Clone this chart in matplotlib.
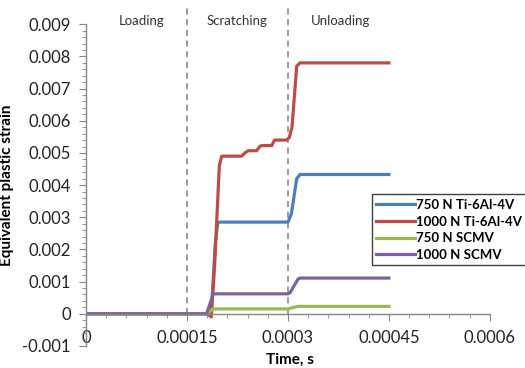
import numpy as np
import matplotlib
matplotlib.use('Agg')
import matplotlib.pyplot as plt
from matplotlib.ticker import MultipleLocator

plt.rcParams['font.family'] = ['Lato', 'DejaVu Sans']

# Data (time in s, equivalent plastic strain)
t_blue = [0, 0.000186, 0.000192, 0.000196, 0.0003, 0.000305, 0.000313, 0.000318, 0.00045]
v_blue = [0, 0, 0.0022, 0.00285, 0.00285, 0.0031, 0.0042, 0.00433, 0.00433]

t_red = [0, 0.000180, 0.000186, 0.000191, 0.000198, 0.0002015, 0.000231, 0.000236,
         0.000241, 0.0002535, 0.000258, 0.000261, 0.000276, 0.000280, 0.000285,
         0.000298, 0.000302, 0.000306, 0.000313, 0.000318, 0.00045]
v_red = [0, 0, -0.0001, 0.0015, 0.0046, 0.0049, 0.0049, 0.0050,
         0.00507, 0.00507, 0.0052, 0.00523, 0.00523, 0.0054, 0.0054,
         0.0054, 0.00548, 0.0058, 0.0077, 0.0078, 0.0078]

t_green = [0, 0.000179, 0.000189, 0.0003, 0.000303, 0.000315, 0.00045]
v_green = [0, 0, 0.00015, 0.00015, 0.00017, 0.00023, 0.00023]

t_purple = [0, 0.000179, 0.000189, 0.0003, 0.000303, 0.000315, 0.000318, 0.00045]
v_purple = [0, 0, 0.00062, 0.00062, 0.00065, 0.00108, 0.00111, 0.00111]

labels = ['750 N Ti-6Al-4V', '1000 N Ti-6Al-4V', '750 N SCMV', '1000 N SCMV']
colors = ['#4A7EBB', '#BE4B48', '#98B954', '#7D60A0']

stage_bounds = [0.00015, 0.0003]
stage_names = ['Loading', 'Scratching', 'Unloading']
stage_pos = [0.000082, 0.000224, 0.000378]

fig = plt.figure(figsize=(5.25, 3.68), dpi=100)
ax = fig.add_axes([0.164, 0.06, 0.769, 0.874])

series = [(t_blue, v_blue), (t_red, v_red), (t_green, v_green), (t_purple, v_purple)]
for (t, v), lab, c in zip(series, labels, colors):
    ax.plot(t, v, color=c, lw=2.3, label=lab, solid_joinstyle='round')

for xb in stage_bounds:
    ax.plot([xb, xb], [0, 0.0095], color='#808080', lw=1.1, ls=(0, (4, 3)),
            clip_on=False, zorder=1)

for name, xp in zip(stage_names, stage_pos):
    ax.text(xp, 0.0091, name, ha='center', va='center', fontsize=9.5, color='#333333')

ax.set_xlim(0, 0.0006)
ax.set_ylim(-0.001, 0.009)
ax.xaxis.set_major_locator(MultipleLocator(0.00015))
ax.xaxis.set_minor_locator(MultipleLocator(0.00003))
ax.yaxis.set_major_locator(MultipleLocator(0.001))
ax.yaxis.set_minor_locator(MultipleLocator(0.0002))
ax.set_xticks([0, 0.00015, 0.0003, 0.00045, 0.0006])
ax.set_xticklabels(['0', '0.00015', '0.0003', '0.00045', '0.0006'])
ax.set_yticks([-0.001, 0, 0.001, 0.002, 0.003, 0.004, 0.005, 0.006, 0.007, 0.008, 0.009])
ax.set_yticklabels(['-0.001', '0', '0.001', '0.002', '0.003', '0.004', '0.005',
                    '0.006', '0.007', '0.008', '0.009'])

ax.spines['top'].set_visible(False)
ax.spines['right'].set_visible(False)
ax.spines['bottom'].set_position(('data', 0))
for s in ['left', 'bottom']:
    ax.spines[s].set_color('#868686')
    ax.spines[s].set_linewidth(1.0)
ax.tick_params(which='both', direction='out', color='#868686', labelsize=12, labelcolor='#222222')
ax.tick_params(which='major', length=5, pad=6)
ax.tick_params(which='minor', length=3)
ax.tick_params(axis='x', which='major', pad=7)

ax.set_ylabel('Equivalent plastic strain', fontsize=11, fontweight='bold', labelpad=6)
fig.text(0.553, 0.022, 'Time, s', ha='center', va='center', fontsize=11, fontweight='bold')

leg = ax.legend(loc='upper left', bbox_to_anchor=(0.708, 0.472), bbox_transform=fig.transFigure,
                fancybox=False, frameon=True, edgecolor='#404040', framealpha=1,
                prop={'weight': 'bold', 'size': 9.5}, handlelength=2.9, handletextpad=0.1,
                labelspacing=0.35, borderpad=0.35, borderaxespad=0)
leg.get_frame().set_linewidth(1.0)

fig.savefig('out.png', dpi=100)
